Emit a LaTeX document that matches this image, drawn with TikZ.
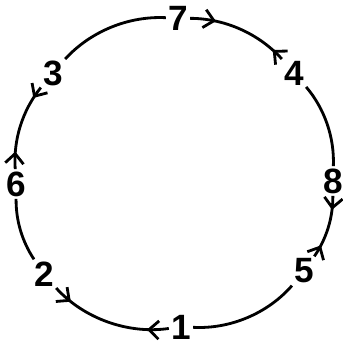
\documentclass[tikz,border=0pt]{standalone}
\usepackage{fontspec}
\setmainfont{Liberation Sans}
\usetikzlibrary{arrows.meta,decorations.markings}

\begin{document}
\begin{tikzpicture}[
    x=0.025cm, y=0.025cm,
    num/.style={inner sep=1.5pt, font=\fontsize{25}{25}\selectfont\bfseries},
    rim/.style={line width=2pt, looseness=0.88},
    twoway/.style 2 args={postaction={decorate}, decoration={markings,
        mark=at position #1 with {\arrow{Straight Barb[length=7pt, width=13pt]}},
        mark=at position -#2 with {\arrowreversed{Straight Barb[length=7pt, width=13pt]}}}}
]
\useasboundingbox (-175,-169) rectangle (167,178);

% --- labels round the circle ---
\node[num] (v7) at (3,160) {7};
\node[num] (v4) at (119,105) {4};
\node[num] (v8) at (158,-3) {8};
\node[num] (v5) at (129,-93) {5};
\node[num] (v1) at (6,-149) {1};
\node[num] (v2) at (-131,-96) {2};
\node[num] (v6) at (-159,-6) {6};
\node[num] (v3) at (-122,105) {3};

% --- arcs ---
\draw[rim, twoway={0.65cm}{0.32cm}] (v7) to[bend left=23.75] (v4);
\draw[rim] (v4) to[bend left=21.25] (v8);
\draw[rim, twoway={0.35cm}{0.32cm}] (v8) to[bend left=17.35] (v5);
\draw[rim] (v5) to[bend left=26] (v1);
\draw[rim, twoway={0.55cm}{0.5cm}] (v1) to[bend left=28] (v2);
\draw[rim] (v2) to[bend left=17] (v6);
\draw[rim, twoway={0.44cm}{0.32cm}] (v6) to[bend left=21.45] (v3);
\draw[rim] (v3) to[bend left=25.2] (v7);

\end{tikzpicture}
\end{document}
